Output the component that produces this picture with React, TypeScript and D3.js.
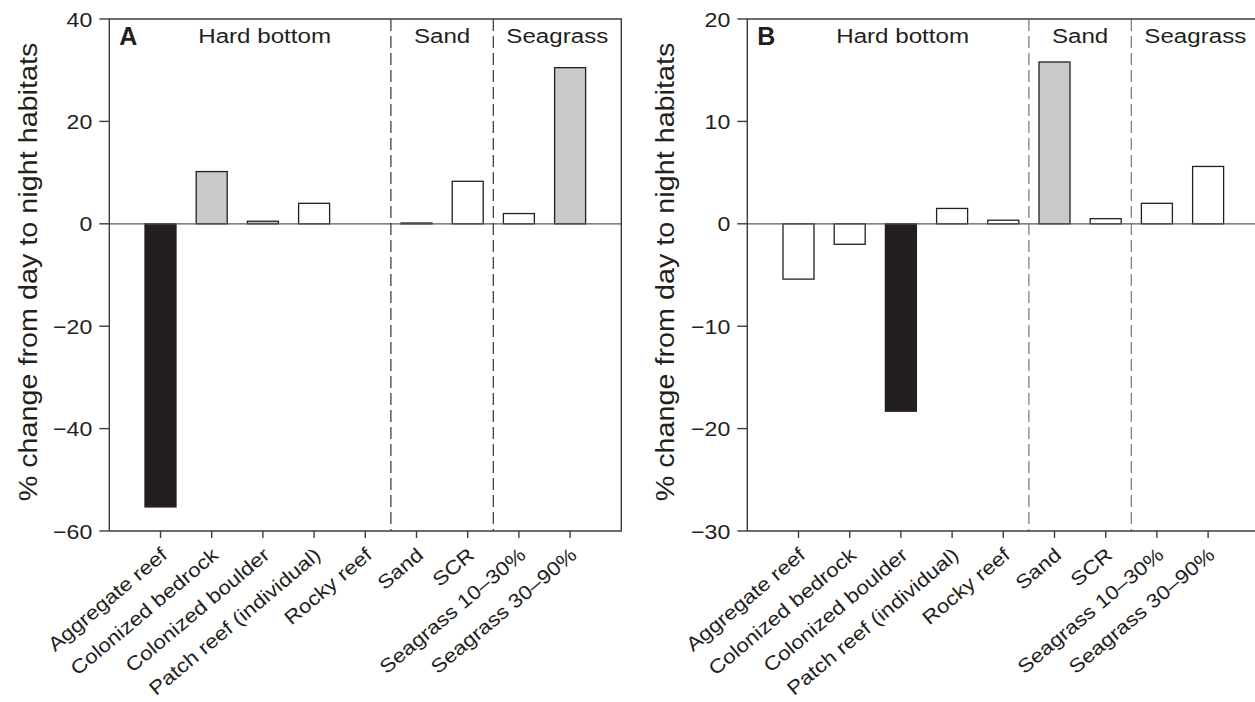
import React from "react";
import * as d3 from "d3";

const categories = [
  "Aggregate reef",
  "Colonized bedrock",
  "Colonized boulder",
  "Patch reef (individual)",
  "Rocky reef",
  "Sand",
  "SCR",
  "Seagrass 10–30%",
  "Seagrass 30–90%",
];

const valuesA: (number | null)[] = [-55.3, 10.2, 0.5, 4.0, null, 0.15, 8.3, 2.0, 30.5];
const fillsA = ["black", "gray", "gray", "white", "white", "black", "white", "white", "gray"];
const valuesB: (number | null)[] = [-5.4, -2.0, -18.3, 1.5, 0.35, 15.8, 0.5, 2.0, 5.6];
const fillsB = ["white", "white", "black", "white", "white", "gray", "white", "white", "white"];

const ticksA = [40, 20, 0, -20, -40, -60];
const ticksB = [20, 10, 0, -10, -20, -30];
const domainA: [number, number] = [-60, 40];
const domainB: [number, number] = [-30, 20];

const groups = [
  { name: "Hard bottom", from: 0, to: 4 },
  { name: "Sand", from: 5, to: 6 },
  { name: "Seagrass", from: 7, to: 8 },
];

const yTitle = "% change from day to night habitats";

const colorMap: Record<string, string> = {
  black: "#231f20",
  gray: "#c8c9ca",
  white: "#ffffff",
};

const INK = "#231f20";
const AXIS = "#3c3c3c";
const FONT = "'Liberation Sans', Arial, Helvetica, sans-serif";
const SX = 1.15;

type TProps = {
  x: number;
  y: number;
  rot?: number;
  size: number;
  anchor?: string;
  weight?: string;
  stretch?: number;
  children: React.ReactNode;
};

function T({ x, y, rot = 0, size, anchor = "start", weight = "normal", stretch = SX, children }: TProps) {
  return (
    <text
      transform={`translate(${x},${y}) rotate(${rot}) scale(${stretch},1)`}
      textAnchor={anchor}
      fontSize={size}
      fontWeight={weight}
      fontFamily={FONT}
      fill={INK}
    >
      {children}
    </text>
  );
}

type PanelProps = {
  left: number;
  letter: string;
  values: (number | null)[];
  fills: string[];
  ticks: number[];
  domain: [number, number];
  titleX: number;
  dashColor: string;
};

function Panel({ left, letter, values, fills, ticks, domain, titleX, dashColor }: PanelProps) {
  const top = 19;
  const size = 512;
  const bottom = top + size;
  const right = left + size;
  const x = d3.scalePoint<string>().domain(categories).range([left, right]).padding(1);
  const y = d3.scaleLinear().domain(domain).range([bottom, top]);
  const step = x.step();
  const barW = 31;
  const y0 = y(0);

  const dividers = groups.slice(0, -1).map((g) => (x(categories[g.to]) as number) + step / 2);
  const letterEnd = left + 29;
  const groupBounds = groups.map((g, i) => {
    const a = i === 0 ? letterEnd : (x(categories[g.from]) as number) - step / 2;
    const b = i === groups.length - 1 ? right : (x(categories[g.to]) as number) + step / 2;
    return (a + b) / 2;
  });

  return (
    <g>
      <T x={titleX} y={272} rot={-90} size={25} anchor="middle">
        {yTitle}
      </T>
      {values.map((v, i) =>
        v === null ? null : (
          <rect
            key={i}
            x={(x(categories[i]) as number) - barW / 2}
            y={Math.min(y(v), y0)}
            width={barW}
            height={Math.max(Math.abs(y(v) - y0), 0.8)}
            fill={colorMap[fills[i]]}
            stroke={INK}
            strokeWidth={1.3}
          />
        )
      )}
      <line x1={left} x2={right} y1={y0} y2={y0} stroke="#5a5a5a" strokeWidth={1.2} />
      {dividers.map((dx, i) => (
        <line
          key={i}
          x1={dx}
          x2={dx}
          y1={top}
          y2={bottom}
          stroke={dashColor}
          strokeWidth={1.2}
          strokeDasharray="12,5"
        />
      ))}
      <path
        d={`M${left},${bottom}V${top}H${right}V${bottom}H${left}`}
        fill="none"
        stroke={AXIS}
        strokeWidth={1.4}
      />
      {ticks.map((t) => (
        <g key={t}>
          <line x1={left - 10} x2={left} y1={y(t)} y2={y(t)} stroke={AXIS} strokeWidth={1.4} />
          <T x={left - 17} y={y(t) + 7.5} size={21} anchor="end" stretch={1.1}>
            {t < 0 ? `\u2212${Math.abs(t)}` : String(t)}
          </T>
        </g>
      ))}
      {categories.map((c) => {
        const px = x(c) as number;
        return (
          <g key={c}>
            <line x1={px} x2={px} y1={bottom} y2={bottom + 7} stroke={AXIS} strokeWidth={1.4} />
            <T x={px + 8} y={bottom + 26} rot={-40} size={19.5} anchor="end">
              {c}
            </T>
          </g>
        );
      })}
      <T x={left + 10} y={top + 26} size={25} weight="bold" stretch={1}>
        {letter}
      </T>
      {groups.map((g, i) => (
        <T key={g.name} x={groupBounds[i]} y={top + 24} size={21} anchor="middle">
          {g.name}
        </T>
      ))}
    </g>
  );
}

export default function App() {
  return (
    <svg
      width={1255}
      height={702}
      style={{ position: "absolute", left: 0, top: 0, background: "#fff" }}
    >
      <rect width={1255} height={702} fill="#fff" />
      <Panel
        left={109.3}
        letter="A"
        values={valuesA}
        fills={fillsA}
        ticks={ticksA}
        domain={domainA}
        titleX={37}
        dashColor="#333"
      />
      <Panel
        left={747.3}
        letter="B"
        values={valuesB}
        fills={fillsB}
        ticks={ticksB}
        domain={domainB}
        titleX={674}
        dashColor="#777"
      />
    </svg>
  );
}
